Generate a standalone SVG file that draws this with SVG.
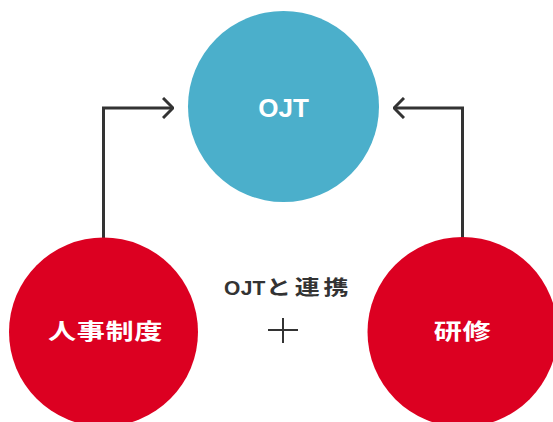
<svg xmlns="http://www.w3.org/2000/svg" width="553" height="422" viewBox="0 0 553 422">
<style>
.lbl{font-family:"Noto Sans CJK JP","Liberation Sans",sans-serif;font-weight:bold;fill:#fff;text-anchor:middle}
.conn{fill:none;stroke:#333;stroke-width:3}
.dark{font-weight:bold;fill:#333}
</style>
<defs>
<marker id="chev" viewBox="0 0 12 22" refX="11" refY="11" markerWidth="12" markerHeight="22" markerUnits="userSpaceOnUse" orient="auto">
<path d="M1,1 L11,11 L1,21" fill="none" stroke="#333" stroke-width="3"/>
</marker>
</defs>
<rect width="553" height="422" fill="#fff"/>
<g id="connectors">
<path class="conn" d="M103.5,240 V108 H173" marker-end="url(#chev)"/>
<path class="conn" d="M462.5,240 V108 H394" marker-end="url(#chev)"/>
</g>
<g id="ojt">
<circle cx="283.5" cy="106.5" r="95.5" fill="#4BAFCB"/>
<text class="lbl" x="283.5" y="117" style="font-family:'Liberation Sans',sans-serif" font-size="26">OJT</text>
</g>
<g id="jinji">
<circle cx="103.5" cy="332" r="94.5" fill="#DC0021"/>
<text class="lbl" transform="translate(105.5,339) scale(1.28,1)" font-size="22" letter-spacing="0.5">人事制度</text>
</g>
<g id="kenshu">
<circle cx="462.5" cy="332" r="95" fill="#DC0021"/>
<text class="lbl" transform="translate(462.5,339) scale(1.28,1)" font-size="22" letter-spacing="0.5">研修</text>
</g>
<g id="center">
<text class="dark" x="224" y="295" font-family="Liberation Sans, sans-serif" font-size="21" letter-spacing="0.3">OJT</text>
<text class="dark" transform="translate(266,294.5) scale(1.25,1)" font-family="Noto Sans CJK JP, sans-serif" font-size="20" letter-spacing="3">と連携</text>
<path d="M268,330 H298 M283,318 V343" stroke="#333" stroke-width="2" fill="none"/>
</g>
</svg>
